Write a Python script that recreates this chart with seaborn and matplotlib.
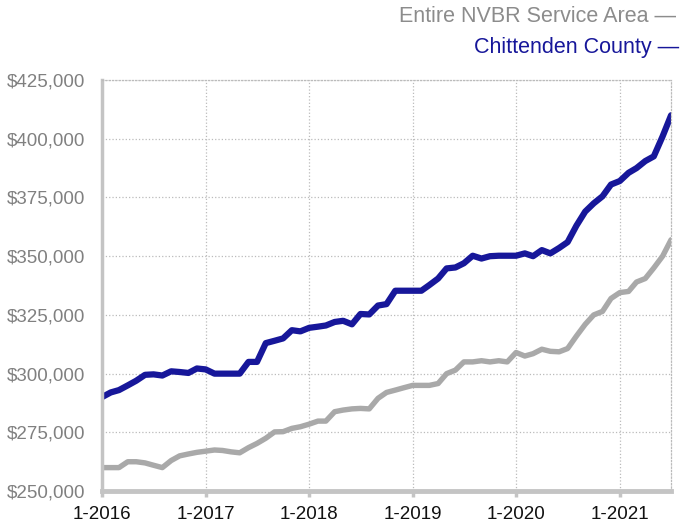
import pandas as pd
import seaborn as sns
from matplotlib import pyplot as plt

# monthly median price, Jan 2016 .. Jul 2021
months = pd.date_range("2016-01-01", "2021-07-01", freq="MS")

chittenden = [
    290000, 292000, 293000, 295000, 297000, 299500, 299700, 299200, 301000, 300700, 300300, 302200,
    301800, 300000, 300000, 300000, 300000, 305000, 305000, 313000, 314000, 315000, 318500, 318000,
    319500, 320000, 320500, 322000, 322500, 321000, 325400, 325200, 329000, 329600, 335300, 335300,
    335300, 335300, 337700, 340500, 344800, 345200, 347000, 350200, 349000, 350000, 350200, 350200,
    350200, 351200, 350000, 352600, 351200, 353500, 356000, 363000, 369000, 372500, 375500, 380500,
    382000, 385500, 387500, 390500, 392500, 401000, 410000,
]
nvbr = [
    260000, 260000, 260000, 262500, 262500, 262000, 261000, 260000, 263000, 265000, 265800, 266500,
    267000, 267500, 267300, 266700, 266300, 268500, 270300, 272500, 275200, 275300, 276700, 277400,
    278500, 279800, 279800, 283800, 284500, 285000, 285200, 285000, 289500, 292000, 293000, 294000,
    295000, 295000, 295000, 295800, 300000, 301500, 305000, 305000, 305500, 305000, 305500, 305000,
    309000, 307500, 308500, 310400, 309500, 309300, 310700, 316000, 321000, 325000, 326500, 332000,
    334500, 335000, 339000, 340500, 345000, 350000, 357000,
]
series_names = ["Entire NVBR Service Area", "Chittenden County"]
series_colors = ["#a9a9a9", "#17179a"]
year_ticks = [2016, 2017, 2018, 2019, 2020, 2021]
y_ticks = [250000, 275000, 300000, 325000, 350000, 375000, 400000, 425000]

df = pd.concat([
    pd.DataFrame({"month": months, "price": nvbr, "area": series_names[0]}),
    pd.DataFrame({"month": months, "price": chittenden, "area": series_names[1]}),
])

sns.set_theme(style="white")
plt.rcParams["font.family"] = ["Liberation Sans", "DejaVu Sans"]

fig = plt.figure(figsize=(6.89, 5.23), dpi=100)
ax = fig.add_axes([0.148, 0.061, 0.826, 0.786])

sns.lineplot(data=df, x="month", y="price", hue="area",
             palette=dict(zip(series_names, series_colors)),
             linewidth=4.5, legend=False, ax=ax)
ax.lines[0].set_linewidth(3.9)

ax.set_xlim(months[0], months[-1])
ax.set_ylim(y_ticks[0], y_ticks[-1])
ax.set_xlabel("")
ax.set_ylabel("")

ax.set_xticks([pd.Timestamp(f"{y}-01-01") for y in year_ticks])
ax.set_xticklabels([f"1-{y}" for y in year_ticks], fontsize=13.5, color="#111111")
ax.set_yticks(y_ticks)
ax.set_yticklabels([f"${v:,}" for v in y_ticks], fontsize=13.5, color="#808080")

ax.grid(True, linestyle=":", color="#bbbbbb", linewidth=0.9)
ax.tick_params(axis="y", length=0, pad=12)
ax.tick_params(axis="x", length=4, width=2.5, color="#c4c4c4", pad=7, bottom=True)

ax.spines["left"].set_color("#c4c4c4")
ax.spines["left"].set_linewidth(2.5)
ax.spines["bottom"].set_color("#c4c4c4")
ax.spines["bottom"].set_linewidth(3.5)
for side in ["top", "right"]:
    ax.spines[side].set_color("#bbbbbb")
    ax.spines[side].set_linestyle(":")
    ax.spines[side].set_linewidth(0.9)

# legend drawn as right-aligned text, like the source
fig.text(676 / 689, 1 - 17 / 523, f"{series_names[0]} \u2014", ha="right", va="center",
         fontsize=15.5, color="#8c8c8c")
fig.text(679 / 689, 1 - 48 / 523, f"{series_names[1]} \u2014", ha="right", va="center",
         fontsize=15.5, color="#17179a")

fig.savefig("out.png", dpi=100)
